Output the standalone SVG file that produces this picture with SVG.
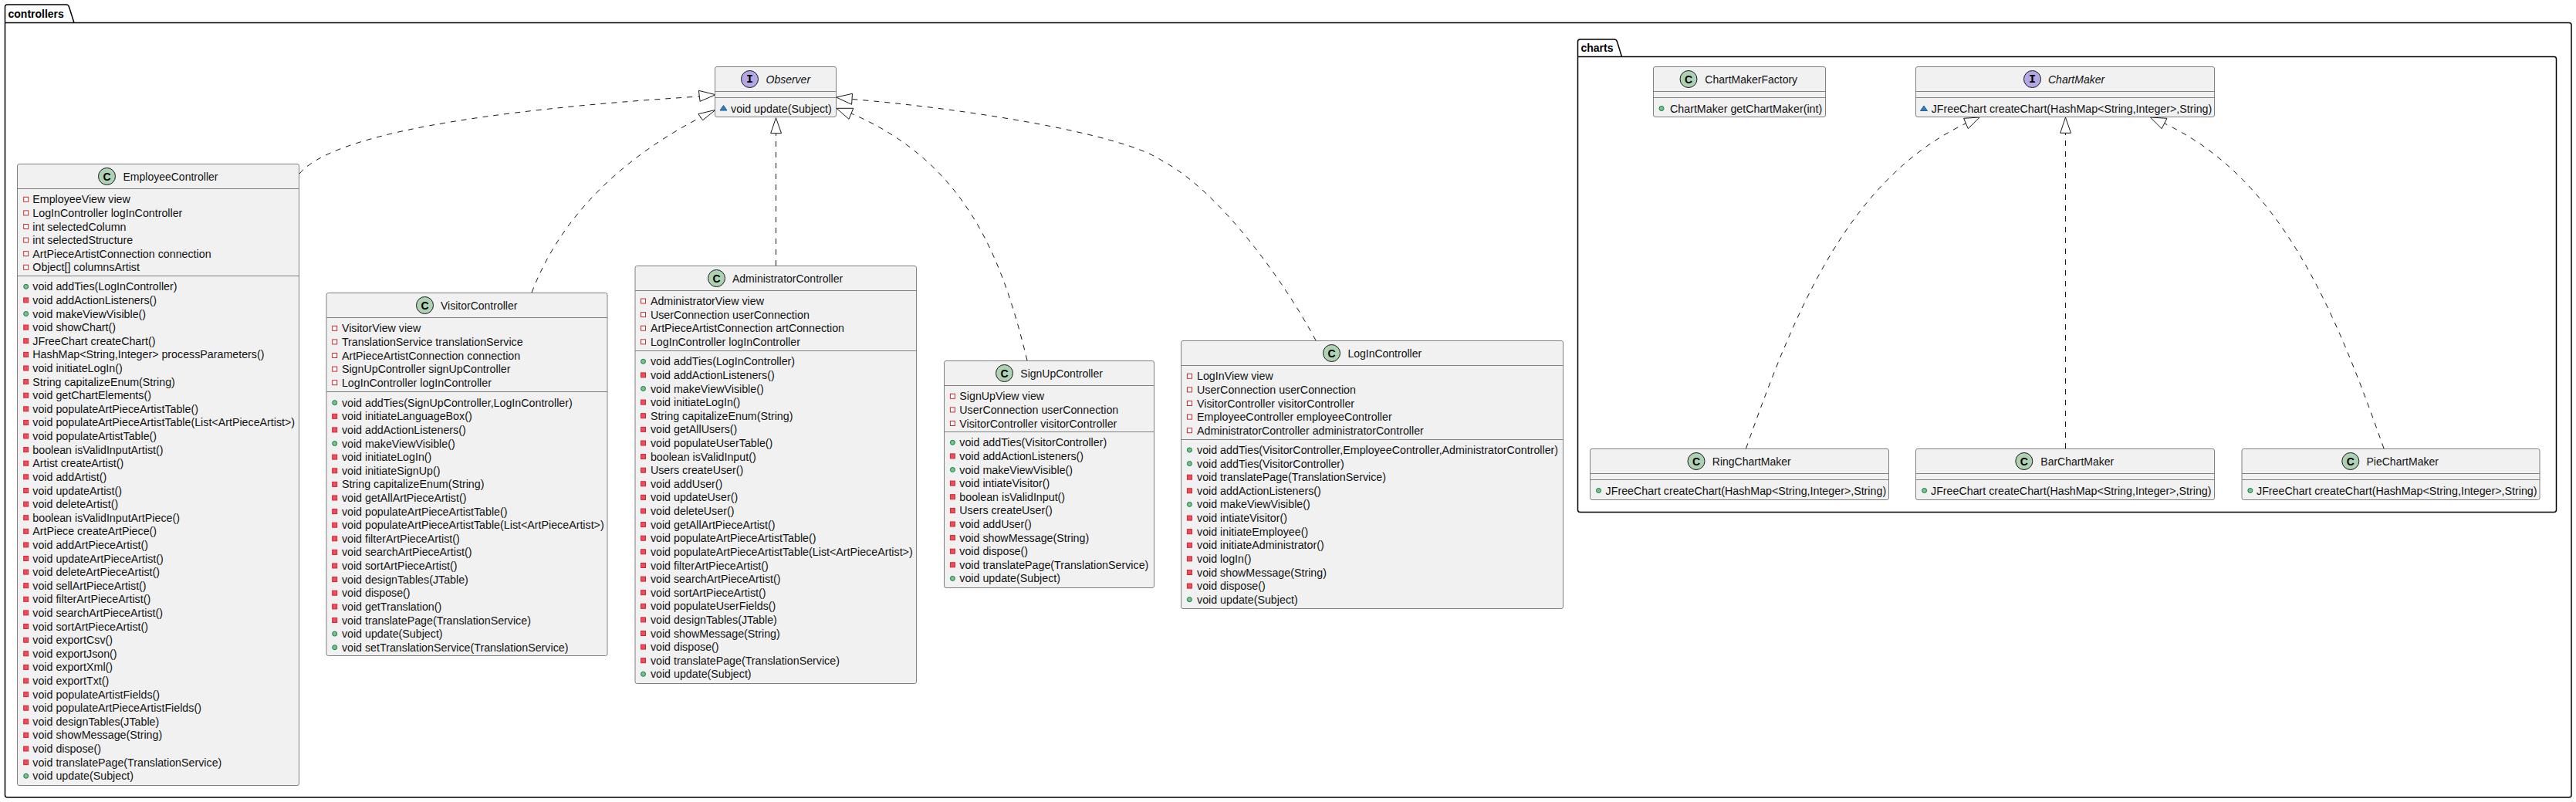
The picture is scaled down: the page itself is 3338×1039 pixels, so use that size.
<svg xmlns="http://www.w3.org/2000/svg" width="3338" height="1039" viewBox="0 0 3338 1039">
<style>
text{font-family:"Liberation Sans",Arial,sans-serif;font-size:14px;fill:#111}
use+text{font-size:14.25px}
.pk{fill:none;stroke:#000;stroke-width:1.5}
.pl{font-weight:bold;fill:#000}
.bx{fill:#F1F1F1;stroke:#808080;stroke-width:1}
.dv{stroke:#808080;stroke-width:1}
.cc{fill:#ADD1B2;stroke:#181818;stroke-width:1}
.ci{fill:#B4A7E5;stroke:#181818;stroke-width:1}
.lt{font-weight:bold;text-anchor:middle;fill:#000}
.im{font-family:"Liberation Mono",monospace;font-size:15px}
.it{font-style:italic}
.cn{fill:none;stroke:#181818;stroke-width:1;stroke-dasharray:7,7}
.ah{fill:#fff;stroke:#181818;stroke-width:1}
</style>
<defs>
<rect id="f" x="-3" y="-3" width="6" height="6" fill="#FFFFFF" stroke="#C82930"/>
<rect id="m" x="-3" y="-3" width="6" height="6" fill="#F24D5C" stroke="#C82930"/>
<circle id="p" r="3" fill="#84BE84" stroke="#038048"/>
<polygon id="t" points="0,-3.5 4.5,3 -4.5,3" fill="#4177AF" stroke="#1963A0"/>
</defs>
<g id="pkg-controllers"><path class="pk" d="M6.5,9 Q6.5,6 9.5,6 H86 Q88.5,6 89.5,9 L96,29.5 H3329 Q3332,29.5 3332,32.5 V1030 Q3332,1033 3329,1033 H9.5 Q6.5,1033 6.5,1030 Z M6.5,29.5 H96"/><text class="pl" x="10.5" y="23">controllers</text></g>
<g id="pkg-charts"><path class="pk" d="M2044.5,54 Q2044.5,51 2047.5,51 H2092 Q2094.5,51 2095.5,54 L2101.5,73.5 H3309.5 Q3312.5,73.5 3312.5,76.5 V660.5 Q3312.5,663.5 3309.5,663.5 H2047.5 Q2044.5,663.5 2044.5,660.5 Z M2044.5,73.5 H2101.5"/><text class="pl" x="2048.5" y="67">charts</text></g>
<g id="connectors">
<path class="cn" d="M388,225 C430,175 620,143 906,125"/>
<polygon class="ah" points="927.2,122.7 905.4,117.3 907.1,131.3"/>
<path class="cn" d="M689,379 C725,285 800,208 908,152"/>
<polygon class="ah" points="927.2,142.3 904.9,147.7 910.7,155.7"/>
<path class="cn" d="M1005.5,344 V172.7"/>
<polygon class="ah" points="1005.5,152.7 998.7,172.7 1012.5,172.7"/>
<path class="cn" d="M1331,467 C1300,340 1255,212 1103,147"/>
<polygon class="ah" points="1083.9,140.3 1105.8,140.3 1100,154.3"/>
<path class="cn" d="M1705,441 C1665,366 1581,248 1506,208.3 C1453,172 1244,140 1104,128.5"/>
<polygon class="ah" points="1083.5,126 1104.5,121.3 1103.6,135.3"/>
<path class="cn" d="M2262.5,581 C2326,401 2396,232 2547,160"/>
<polygon class="ah" points="2565.3,152 2544.6,153.3 2550.3,166.7"/>
<path class="cn" d="M2676.5,581 V172.3"/>
<polygon class="ah" points="2676.5,152 2669.7,172.3 2683.5,172.3"/>
<path class="cn" d="M3089,581 C3025.5,401 2956,232 2805,160"/>
<polygon class="ah" points="2786.3,152 2808,153.3 2801.2,166.7"/>
</g>
<g id="Observer"><rect class="bx" x="926.5" y="86.5" width="157" height="65" rx="2.5"/><path class="dv" d="M926.5,118.5 H1083.5 M926.5,126.5 H1083.5"/><circle class="ci" cx="971.5" cy="102.5" r="11"/><text class="lt im" x="971.5" y="107">I</text><text class="it" x="992.5" y="107.5">Observer</text><use href="#t" x="937.5" y="140"/><text x="947" y="145.5">void update(Subject)</text></g>
<g id="EmployeeController"><rect class="bx" x="22.5" y="212.5" width="365" height="805" rx="2.5"/><path class="dv" d="M22.5,244.5 H387.5 M22.5,357.5 H387.5"/><circle class="cc" cx="138.5" cy="228.5" r="11"/><text class="lt" x="138.5" y="233.5">C</text><text x="159.5" y="233.5">EmployeeController</text>
<use href="#f" x="33.7" y="258.3"/><text x="42.3" y="263.3">EmployeeView view</text>
<use href="#f" x="33.7" y="275.9"/><text x="42.3" y="280.9">LogInController logInController</text>
<use href="#f" x="33.7" y="293.5"/><text x="42.3" y="298.5">int selectedColumn</text>
<use href="#f" x="33.7" y="311.1"/><text x="42.3" y="316.1">int selectedStructure</text>
<use href="#f" x="33.7" y="328.7"/><text x="42.3" y="333.7">ArtPieceArtistConnection connection</text>
<use href="#f" x="33.7" y="346.3"/><text x="42.3" y="351.3">Object[] columnsArtist</text>
<use href="#p" x="33.7" y="371.3"/><text x="42.3" y="376.3">void addTies(LogInController)</text>
<use href="#m" x="33.7" y="388.9"/><text x="42.3" y="393.9">void addActionListeners()</text>
<use href="#p" x="33.7" y="406.5"/><text x="42.3" y="411.5">void makeViewVisible()</text>
<use href="#m" x="33.7" y="424.1"/><text x="42.3" y="429.1">void showChart()</text>
<use href="#m" x="33.7" y="441.7"/><text x="42.3" y="446.7">JFreeChart createChart()</text>
<use href="#m" x="33.7" y="459.4"/><text x="42.3" y="464.4">HashMap&lt;String,Integer&gt; processParameters()</text>
<use href="#m" x="33.7" y="477"/><text x="42.3" y="482">void initiateLogIn()</text>
<use href="#m" x="33.7" y="494.6"/><text x="42.3" y="499.6">String capitalizeEnum(String)</text>
<use href="#m" x="33.7" y="512.2"/><text x="42.3" y="517.2">void getChartElements()</text>
<use href="#m" x="33.7" y="529.8"/><text x="42.3" y="534.8">void populateArtPieceArtistTable()</text>
<use href="#m" x="33.7" y="547.4"/><text x="42.3" y="552.4">void populateArtPieceArtistTable(List&lt;ArtPieceArtist&gt;)</text>
<use href="#m" x="33.7" y="565"/><text x="42.3" y="570">void populateArtistTable()</text>
<use href="#m" x="33.7" y="582.6"/><text x="42.3" y="587.6">boolean isValidInputArtist()</text>
<use href="#m" x="33.7" y="600.2"/><text x="42.3" y="605.2">Artist createArtist()</text>
<use href="#m" x="33.7" y="617.8"/><text x="42.3" y="622.8">void addArtist()</text>
<use href="#m" x="33.7" y="635.5"/><text x="42.3" y="640.5">void updateArtist()</text>
<use href="#m" x="33.7" y="653.1"/><text x="42.3" y="658.1">void deleteArtist()</text>
<use href="#m" x="33.7" y="670.7"/><text x="42.3" y="675.7">boolean isValidInputArtPiece()</text>
<use href="#m" x="33.7" y="688.3"/><text x="42.3" y="693.3">ArtPiece createArtPiece()</text>
<use href="#m" x="33.7" y="705.9"/><text x="42.3" y="710.9">void addArtPieceArtist()</text>
<use href="#m" x="33.7" y="723.5"/><text x="42.3" y="728.5">void updateArtPieceArtist()</text>
<use href="#m" x="33.7" y="741.1"/><text x="42.3" y="746.1">void deleteArtPieceArtist()</text>
<use href="#m" x="33.7" y="758.7"/><text x="42.3" y="763.7">void sellArtPieceArtist()</text>
<use href="#m" x="33.7" y="776.3"/><text x="42.3" y="781.3">void filterArtPieceArtist()</text>
<use href="#m" x="33.7" y="793.9"/><text x="42.3" y="798.9">void searchArtPieceArtist()</text>
<use href="#m" x="33.7" y="811.5"/><text x="42.3" y="816.5">void sortArtPieceArtist()</text>
<use href="#m" x="33.7" y="829.2"/><text x="42.3" y="834.2">void exportCsv()</text>
<use href="#m" x="33.7" y="846.8"/><text x="42.3" y="851.8">void exportJson()</text>
<use href="#m" x="33.7" y="864.4"/><text x="42.3" y="869.4">void exportXml()</text>
<use href="#m" x="33.7" y="882"/><text x="42.3" y="887">void exportTxt()</text>
<use href="#m" x="33.7" y="899.6"/><text x="42.3" y="904.6">void populateArtistFields()</text>
<use href="#m" x="33.7" y="917.2"/><text x="42.3" y="922.2">void populateArtPieceArtistFields()</text>
<use href="#m" x="33.7" y="934.8"/><text x="42.3" y="939.8">void designTables(JTable)</text>
<use href="#m" x="33.7" y="952.4"/><text x="42.3" y="957.4">void showMessage(String)</text>
<use href="#m" x="33.7" y="970"/><text x="42.3" y="975">void dispose()</text>
<use href="#m" x="33.7" y="987.6"/><text x="42.3" y="992.6">void translatePage(TranslationService)</text>
<use href="#p" x="33.7" y="1005.3"/><text x="42.3" y="1010.3">void update(Subject)</text>
</g>
<g id="VisitorController"><rect class="bx" x="423" y="379.5" width="364" height="470" rx="2.5"/><path class="dv" d="M423,411.5 H787 M423,507.5 H787"/><circle class="cc" cx="550.5" cy="395.5" r="11"/><text class="lt" x="550.5" y="400.5">C</text><text x="571" y="400.5">VisitorController</text>
<use href="#f" x="433.7" y="425.3"/><text x="442.9" y="430.3">VisitorView view</text>
<use href="#f" x="433.7" y="442.9"/><text x="442.9" y="447.9">TranslationService translationService</text>
<use href="#f" x="433.7" y="460.5"/><text x="442.9" y="465.5">ArtPieceArtistConnection connection</text>
<use href="#f" x="433.7" y="478.1"/><text x="442.9" y="483.1">SignUpController signUpController</text>
<use href="#f" x="433.7" y="495.7"/><text x="442.9" y="500.7">LogInController logInController</text>
<use href="#p" x="433.7" y="521.7"/><text x="442.9" y="526.7">void addTies(SignUpController,LogInController)</text>
<use href="#m" x="433.7" y="539.3"/><text x="442.9" y="544.3">void initiateLanguageBox()</text>
<use href="#m" x="433.7" y="556.9"/><text x="442.9" y="561.9">void addActionListeners()</text>
<use href="#p" x="433.7" y="574.5"/><text x="442.9" y="579.5">void makeViewVisible()</text>
<use href="#m" x="433.7" y="592.1"/><text x="442.9" y="597.1">void initiateLogIn()</text>
<use href="#m" x="433.7" y="609.8"/><text x="442.9" y="614.8">void initiateSignUp()</text>
<use href="#m" x="433.7" y="627.4"/><text x="442.9" y="632.4">String capitalizeEnum(String)</text>
<use href="#m" x="433.7" y="645"/><text x="442.9" y="650">void getAllArtPieceArtist()</text>
<use href="#m" x="433.7" y="662.6"/><text x="442.9" y="667.6">void populateArtPieceArtistTable()</text>
<use href="#m" x="433.7" y="680.2"/><text x="442.9" y="685.2">void populateArtPieceArtistTable(List&lt;ArtPieceArtist&gt;)</text>
<use href="#m" x="433.7" y="697.8"/><text x="442.9" y="702.8">void filterArtPieceArtist()</text>
<use href="#m" x="433.7" y="715.4"/><text x="442.9" y="720.4">void searchArtPieceArtist()</text>
<use href="#m" x="433.7" y="733"/><text x="442.9" y="738">void sortArtPieceArtist()</text>
<use href="#m" x="433.7" y="750.6"/><text x="442.9" y="755.6">void designTables(JTable)</text>
<use href="#m" x="433.7" y="768.2"/><text x="442.9" y="773.2">void dispose()</text>
<use href="#m" x="433.7" y="785.9"/><text x="442.9" y="790.9">void getTranslation()</text>
<use href="#m" x="433.7" y="803.5"/><text x="442.9" y="808.5">void translatePage(TranslationService)</text>
<use href="#p" x="433.7" y="821.1"/><text x="442.9" y="826.1">void update(Subject)</text>
<use href="#p" x="433.7" y="838.7"/><text x="442.9" y="843.7">void setTranslationService(TranslationService)</text>
</g>
<g id="AdministratorController"><rect class="bx" x="823" y="344.5" width="364.5" height="541" rx="2.5"/><path class="dv" d="M823,376.5 H1187.5 M823,454.5 H1187.5"/><circle class="cc" cx="928.5" cy="360.5" r="11"/><text class="lt" x="928.5" y="365.5">C</text><text x="949" y="365.5">AdministratorController</text>
<use href="#f" x="833.5" y="390"/><text x="842.9" y="395">AdministratorView view</text>
<use href="#f" x="833.5" y="407.6"/><text x="842.9" y="412.6">UserConnection userConnection</text>
<use href="#f" x="833.5" y="425.2"/><text x="842.9" y="430.2">ArtPieceArtistConnection artConnection</text>
<use href="#f" x="833.5" y="442.8"/><text x="842.9" y="447.8">LogInController logInController</text>
<use href="#p" x="833.5" y="468.3"/><text x="842.9" y="473.3">void addTies(LogInController)</text>
<use href="#m" x="833.5" y="485.9"/><text x="842.9" y="490.9">void addActionListeners()</text>
<use href="#p" x="833.5" y="503.5"/><text x="842.9" y="508.5">void makeViewVisible()</text>
<use href="#m" x="833.5" y="521.1"/><text x="842.9" y="526.1">void initiateLogIn()</text>
<use href="#m" x="833.5" y="538.7"/><text x="842.9" y="543.7">String capitalizeEnum(String)</text>
<use href="#m" x="833.5" y="556.4"/><text x="842.9" y="561.4">void getAllUsers()</text>
<use href="#m" x="833.5" y="574"/><text x="842.9" y="579">void populateUserTable()</text>
<use href="#m" x="833.5" y="591.6"/><text x="842.9" y="596.6">boolean isValidInput()</text>
<use href="#m" x="833.5" y="609.2"/><text x="842.9" y="614.2">Users createUser()</text>
<use href="#m" x="833.5" y="626.8"/><text x="842.9" y="631.8">void addUser()</text>
<use href="#m" x="833.5" y="644.4"/><text x="842.9" y="649.4">void updateUser()</text>
<use href="#m" x="833.5" y="662"/><text x="842.9" y="667">void deleteUser()</text>
<use href="#m" x="833.5" y="679.6"/><text x="842.9" y="684.6">void getAllArtPieceArtist()</text>
<use href="#m" x="833.5" y="697.2"/><text x="842.9" y="702.2">void populateArtPieceArtistTable()</text>
<use href="#m" x="833.5" y="714.8"/><text x="842.9" y="719.8">void populateArtPieceArtistTable(List&lt;ArtPieceArtist&gt;)</text>
<use href="#m" x="833.5" y="732.5"/><text x="842.9" y="737.5">void filterArtPieceArtist()</text>
<use href="#m" x="833.5" y="750.1"/><text x="842.9" y="755.1">void searchArtPieceArtist()</text>
<use href="#m" x="833.5" y="767.7"/><text x="842.9" y="772.7">void sortArtPieceArtist()</text>
<use href="#m" x="833.5" y="785.3"/><text x="842.9" y="790.3">void populateUserFields()</text>
<use href="#m" x="833.5" y="802.9"/><text x="842.9" y="807.9">void designTables(JTable)</text>
<use href="#m" x="833.5" y="820.5"/><text x="842.9" y="825.5">void showMessage(String)</text>
<use href="#m" x="833.5" y="838.1"/><text x="842.9" y="843.1">void dispose()</text>
<use href="#m" x="833.5" y="855.7"/><text x="842.9" y="860.7">void translatePage(TranslationService)</text>
<use href="#p" x="833.5" y="873.3"/><text x="842.9" y="878.3">void update(Subject)</text>
</g>
<g id="SignUpController"><rect class="bx" x="1223.5" y="467.5" width="272" height="294" rx="2.5"/><path class="dv" d="M1223.5,499.5 H1495.5 M1223.5,559.5 H1495.5"/><circle class="cc" cx="1301.5" cy="483.5" r="11"/><text class="lt" x="1301.5" y="488.5">C</text><text x="1322.3" y="488.5">SignUpController</text>
<use href="#f" x="1234.4" y="513.3"/><text x="1243.3" y="518.3">SignUpView view</text>
<use href="#f" x="1234.4" y="530.9"/><text x="1243.3" y="535.9">UserConnection userConnection</text>
<use href="#f" x="1234.4" y="548.5"/><text x="1243.3" y="553.5">VisitorController visitorController</text>
<use href="#p" x="1234.4" y="573.3"/><text x="1243.3" y="578.3">void addTies(VisitorController)</text>
<use href="#m" x="1234.4" y="590.9"/><text x="1243.3" y="595.9">void addActionListeners()</text>
<use href="#p" x="1234.4" y="608.5"/><text x="1243.3" y="613.5">void makeViewVisible()</text>
<use href="#m" x="1234.4" y="626.1"/><text x="1243.3" y="631.1">void intiateVisitor()</text>
<use href="#m" x="1234.4" y="643.7"/><text x="1243.3" y="648.7">boolean isValidInput()</text>
<use href="#m" x="1234.4" y="661.4"/><text x="1243.3" y="666.4">Users createUser()</text>
<use href="#m" x="1234.4" y="679"/><text x="1243.3" y="684">void addUser()</text>
<use href="#m" x="1234.4" y="696.6"/><text x="1243.3" y="701.6">void showMessage(String)</text>
<use href="#m" x="1234.4" y="714.2"/><text x="1243.3" y="719.2">void dispose()</text>
<use href="#m" x="1234.4" y="731.8"/><text x="1243.3" y="736.8">void translatePage(TranslationService)</text>
<use href="#p" x="1234.4" y="749.4"/><text x="1243.3" y="754.4">void update(Subject)</text>
</g>
<g id="LogInController"><rect class="bx" x="1530.5" y="441.5" width="495" height="347" rx="2.5"/><path class="dv" d="M1530.5,473.5 H2025.5 M1530.5,569.5 H2025.5"/><circle class="cc" cx="1725.5" cy="457.5" r="11"/><text class="lt" x="1725.5" y="462.5">C</text><text x="1746.4" y="462.5">LogInController</text>
<use href="#f" x="1541.4" y="487.3"/><text x="1551" y="492.3">LogInView view</text>
<use href="#f" x="1541.4" y="504.9"/><text x="1551" y="509.9">UserConnection userConnection</text>
<use href="#f" x="1541.4" y="522.5"/><text x="1551" y="527.5">VisitorController visitorController</text>
<use href="#f" x="1541.4" y="540.1"/><text x="1551" y="545.1">EmployeeController employeeController</text>
<use href="#f" x="1541.4" y="557.7"/><text x="1551" y="562.7">AdministratorController administratorController</text>
<use href="#p" x="1541.4" y="583"/><text x="1551" y="588">void addTies(VisitorController,EmployeeController,AdministratorController)</text>
<use href="#p" x="1541.4" y="600.6"/><text x="1551" y="605.6">void addTies(VisitorController)</text>
<use href="#m" x="1541.4" y="618.2"/><text x="1551" y="623.2">void translatePage(TranslationService)</text>
<use href="#m" x="1541.4" y="635.8"/><text x="1551" y="640.8">void addActionListeners()</text>
<use href="#p" x="1541.4" y="653.4"/><text x="1551" y="658.4">void makeViewVisible()</text>
<use href="#m" x="1541.4" y="671.1"/><text x="1551" y="676.1">void intiateVisitor()</text>
<use href="#m" x="1541.4" y="688.7"/><text x="1551" y="693.7">void initiateEmployee()</text>
<use href="#m" x="1541.4" y="706.3"/><text x="1551" y="711.3">void initiateAdministrator()</text>
<use href="#m" x="1541.4" y="723.9"/><text x="1551" y="728.9">void logIn()</text>
<use href="#m" x="1541.4" y="741.5"/><text x="1551" y="746.5">void showMessage(String)</text>
<use href="#m" x="1541.4" y="759.1"/><text x="1551" y="764.1">void dispose()</text>
<use href="#p" x="1541.4" y="776.7"/><text x="1551" y="781.7">void update(Subject)</text>
</g>
<g id="ChartMakerFactory"><rect class="bx" x="2142.5" y="86.5" width="223" height="65" rx="2.5"/><path class="dv" d="M2142.5,118.5 H2365.5 M2142.5,126.5 H2365.5"/><circle class="cc" cx="2188" cy="102.5" r="11"/><text class="lt" x="2188" y="107.5">C</text><text x="2209.3" y="107.5">ChartMakerFactory</text><use href="#p" x="2153" y="140.5"/><text x="2164" y="145.5">ChartMaker getChartMaker(int)</text></g>
<g id="ChartMaker"><rect class="bx" x="2482.5" y="86.5" width="387" height="65" rx="2.5"/><path class="dv" d="M2482.5,118.5 H2869.5 M2482.5,126.5 H2869.5"/><circle class="ci" cx="2633.5" cy="102.5" r="11"/><text class="lt im" x="2633.5" y="107">I</text><text class="it" x="2654" y="107.5">ChartMaker</text><use href="#t" x="2493" y="140.5"/><text x="2502.7" y="145.5">JFreeChart createChart(HashMap&lt;String,Integer&gt;,String)</text></g>
<g id="RingChartMaker"><rect class="bx" x="2060.5" y="581.5" width="387" height="66" rx="2.5"/><path class="dv" d="M2060.5,613.5 H2447.5 M2060.5,621.5 H2447.5"/><circle class="cc" cx="2198" cy="597.5" r="11"/><text class="lt" x="2198" y="602.5">C</text><text x="2218.8" y="602.5">RingChartMaker</text><use href="#p" x="2071.5" y="635.5"/><text x="2080.6" y="640.5">JFreeChart createChart(HashMap&lt;String,Integer&gt;,String)</text></g>
<g id="BarChartMaker"><rect class="bx" x="2482.5" y="581.5" width="387" height="66" rx="2.5"/><path class="dv" d="M2482.5,613.5 H2869.5 M2482.5,621.5 H2869.5"/><circle class="cc" cx="2622.8" cy="597.5" r="11"/><text class="lt" x="2622.8" y="602.5">C</text><text x="2644.3" y="602.5">BarChartMaker</text><use href="#p" x="2493.6" y="635.5"/><text x="2502" y="640.5">JFreeChart createChart(HashMap&lt;String,Integer&gt;,String)</text></g>
<g id="PieChartMaker"><rect class="bx" x="2905" y="581.5" width="386" height="66" rx="2.5"/><path class="dv" d="M2905,613.5 H3291 M2905,621.5 H3291"/><circle class="cc" cx="3045.8" cy="597.5" r="11"/><text class="lt" x="3045.8" y="602.5">C</text><text x="3066.5" y="602.5">PieChartMaker</text><use href="#p" x="2915.8" y="635.5"/><text x="2924" y="640.5">JFreeChart createChart(HashMap&lt;String,Integer&gt;,String)</text></g>
</svg>
